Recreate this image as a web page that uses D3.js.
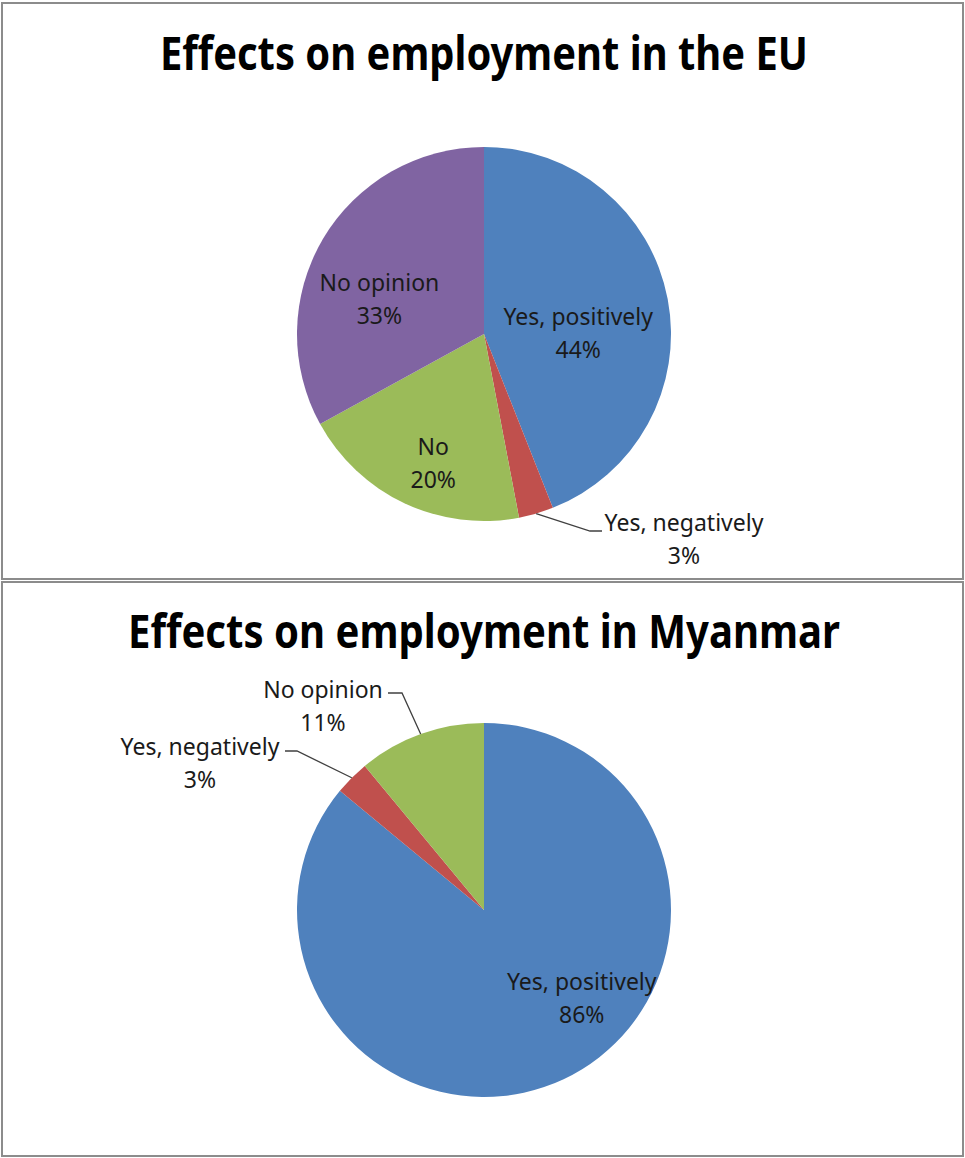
<!doctype html>
<html lang="en">
<head>
  <meta charset="utf-8">
  <title>Effects on employment</title>
  <script src="https://cdn.jsdelivr.net/npm/d3@7"></script>
  <style type="text/css">
    body {
      margin: 0;
      background-color: #ffffff;
    }
    .title {
      font-family: "Noto Sans", sans-serif;
      font-weight: bold;
      font-size: 46px;
      fill: #000000;
    }
    .label {
      font-family: "Noto Sans", sans-serif;
      font-size: 23px;
      fill: #1a1a1a;
    }
    .leader {
      stroke: #404040;
      stroke-width: 1.3;
      fill: none;
    }
    .frame {
      fill: #ffffff;
      stroke: #8c8c8c;
      stroke-width: 2;
    }
  </style>
</head>
<body>
<div id="container"></div>

<script type="text/javascript">

  // Chart data
  var euCategories = ["Yes, positively", "Yes, negatively", "No", "No opinion"];
  var euValues = [44, 3, 20, 33];

  var mmCategories = ["Yes, positively", "Yes, negatively", "No opinion"];
  var mmValues = [86, 3, 11];

  var titles = ["Effects on employment in the EU", "Effects on employment in Myanmar"];

  // Office default palette, used in category order
  var palette = ["#4f81bd", "#c0504d", "#9bbb59", "#8064a2"];

  // Layout for each panel
  var width = 965, height = 1158;
  var radius = 187;
  var panels = [
    {
      title: titles[0], categories: euCategories, values: euValues,
      top: 3, bottom: 579, cy: 334, titleY: 70, titleLen: 648,
      // label placement: inside labels get a nudge from the centroid,
      // outside labels get an elbow and a text anchor point
      labels: [
        { kind: "in", dx: -16, dy: 20 },
        { kind: "out", elbow: [590, 531], end: [602, 531], text: [684, 523], anchor: "middle" },
        { kind: "in", dx: -3, dy: 28 },
        { kind: "in", dx: -8, dy: 23 }
      ]
    },
    {
      title: titles[1], categories: mmCategories, values: mmValues,
      top: 582, bottom: 1156, cy: 910, titleY: 648, titleLen: 712,
      labels: [
        { kind: "in", dx: 50, dy: -13 },
        { kind: "out", elbow: [297, 751], end: [285, 751], text: [200, 747], anchor: "middle" },
        { kind: "out", elbow: [402, 693], end: [388, 693], text: [323, 690], anchor: "middle" }
      ]
    }
  ];
  var cx = 484;
  var lineGap = 33;

  var svg = d3.select("#container")
    .append("svg")
    .attr("width", width)
    .attr("height", height);

  var pie = d3.pie().sort(null).value(function(d) { return d; });
  var arc = d3.arc().innerRadius(0).outerRadius(radius);
  var labelArc = d3.arc().innerRadius(radius * 0.6).outerRadius(radius * 0.6);

  panels.forEach(function(p) {
    // panel frame
    svg.append("rect")
      .attr("class", "frame")
      .attr("x", 2)
      .attr("y", p.top)
      .attr("width", 961)
      .attr("height", p.bottom - p.top);

    // title
    svg.append("text")
      .attr("class", "title")
      .attr("x", cx)
      .attr("y", p.titleY)
      .attr("text-anchor", "middle")
      .attr("textLength", p.titleLen)
      .attr("lengthAdjust", "spacingAndGlyphs")
      .text(p.title);

    var g = svg.append("g")
      .attr("transform", "translate(" + cx + "," + p.cy + ")");

    var arcs = pie(p.values);

    // slices
    g.selectAll("path")
      .data(arcs)
      .enter()
      .append("path")
      .attr("d", arc)
      .attr("fill", function(d, i) { return palette[i]; });

    // labels
    arcs.forEach(function(d, i) {
      var lay = p.labels[i];
      var lines = [p.categories[i], p.values[i] + "%"];
      var x, y;
      if (lay.kind == "in") {
        var c = labelArc.centroid(d);
        x = c[0] + lay.dx;
        y = c[1] + lay.dy - lineGap / 2;
      } else {
        var mid = (d.startAngle + d.endAngle) / 2;
        var edge = [radius * Math.sin(mid), -radius * Math.cos(mid)];
        var elbow = [lay.elbow[0] - cx, lay.elbow[1] - p.cy];
        var end = [lay.end[0] - cx, lay.end[1] - p.cy];
        g.append("polyline")
          .attr("class", "leader")
          .attr("points", [edge, elbow, end].map(function(pt) { return pt.join(","); }).join(" "));
        x = lay.text[0] - cx;
        y = lay.text[1] - p.cy;
      }
      var t = g.append("text")
        .attr("class", "label")
        .attr("text-anchor", "middle");
      lines.forEach(function(s, k) {
        t.append("tspan")
          .attr("x", x)
          .attr("y", y + k * lineGap)
          .attr("dy", "0.35em")
          .text(s);
      });
    });
  });

</script>
</body>
</html>
